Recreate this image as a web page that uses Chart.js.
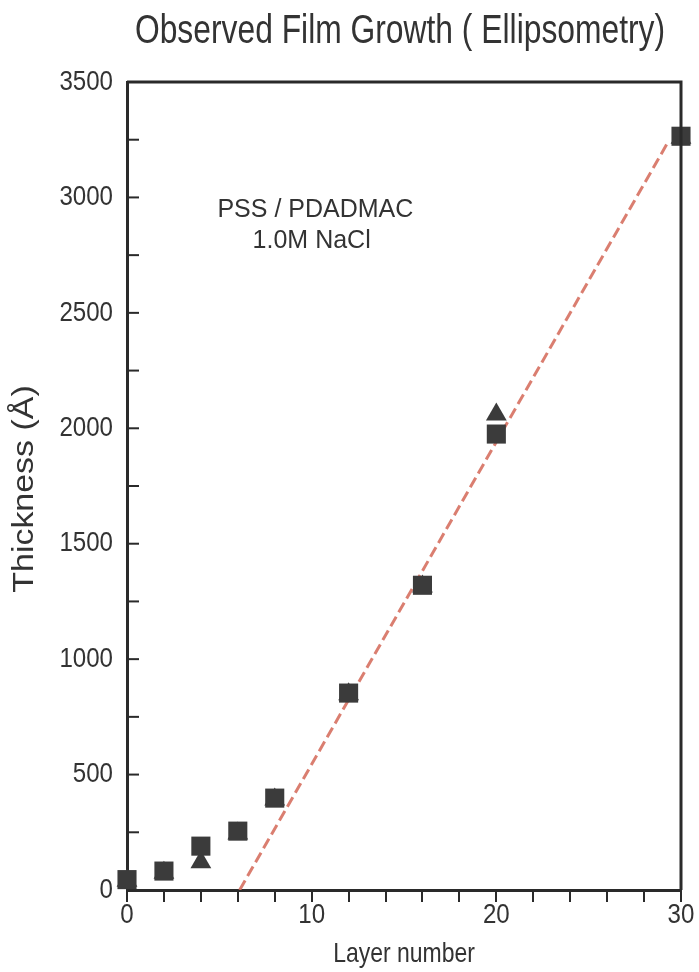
<!DOCTYPE html>
<html><head><meta charset="utf-8">
<script src="https://cdn.jsdelivr.net/npm/chart.js@4.4.1/dist/chart.umd.min.js"></script>
<style>html,body{margin:0;padding:0;background:#fff;}#wrap{width:699px;height:972px;}</style>
</head><body><div id="wrap"><canvas id="c" width="699" height="972"></canvas></div>
<script>
// ---- data ----
const layerNumbers = [0, 2, 4, 6, 8, 12, 16, 20, 30];
const squareThickness = [45, 82, 190, 255, 398, 853, 1320, 1975, 3265];
const triangleThickness = [40, 75, 120, 245, 392, 848, 1315, 2060, 3258];
const fitLayers = [6.1, 29.3];
const fitThickness = [0, 3240];
const xLabelValues = [0, 10, 20, 30];
const yLabelValues = [0, 500, 1000, 1500, 2000, 2500, 3000, 3500];
const chartTitle = 'Observed Film Growth ( Ellipsometry)';
const xTitle = 'Layer number';
const yTitle = 'Thickness (Å)';
const noteLines = ['PSS / PDADMAC', '1.0M NaCl'];
const notePos = [{x: 10.2, y: 2945}, {x: 10.0, y: 2810}];

const SANS = '"Liberation Sans", Arial, sans-serif';
const INK = '#333333';
const AXIS = '#2a2a2a';
const MARK = '#3b3b3b';

const pts = (xs, ys) => xs.map((x, i) => ({x, y: ys[i]}));

// the reference is slightly stretched vertically: horizontal text looks narrow
function stretchedText(ctx, text, x, y, size, sx, sy, align, rot) {
  ctx.save();
  ctx.font = size + 'px ' + SANS;
  ctx.textAlign = align;
  ctx.textBaseline = 'middle';
  ctx.translate(x, y);
  ctx.scale(sx, sy);
  if (rot) ctx.rotate(rot);
  ctx.fillText(text, 0, 0);
  ctx.restore();
}

const decor = {
  id: 'decor',
  afterDraw(chart) {
    const {ctx, chartArea: a, scales: {x, y}} = chart;
    ctx.save();
    // top & right border
    ctx.strokeStyle = AXIS;
    ctx.lineWidth = 3;
    ctx.beginPath();
    ctx.moveTo(a.left, a.top);
    ctx.lineTo(a.right, a.top);
    ctx.lineTo(a.right, a.bottom);
    ctx.stroke();
    // inward y ticks
    ctx.lineWidth = 2;
    y.ticks.forEach(t => {
      if (t.value <= 0 || t.value >= 3500) return;
      const py = y.getPixelForValue(t.value);
      ctx.beginPath();
      ctx.moveTo(a.left, py);
      ctx.lineTo(a.left + 12, py);
      ctx.stroke();
    });
    ctx.fillStyle = INK;
    // tick labels
    yLabelValues.forEach(v => stretchedText(ctx, String(v), a.left - 14, y.getPixelForValue(v), 28, 0.86, 1, 'right'));
    xLabelValues.forEach(v => stretchedText(ctx, String(v), x.getPixelForValue(v), a.bottom + 25, 28, 0.86, 1, 'center'));
    // axis titles
    stretchedText(ctx, xTitle, (a.left + a.right) / 2, 954, 28, 0.82, 1, 'center');
    stretchedText(ctx, yTitle, 25, (a.top + a.bottom) / 2 + 3, 29, 1, 1.17, 'center', -Math.PI / 2);
    // title
    stretchedText(ctx, chartTitle, 400, 32, 40, 0.795, 1, 'center');
    // note
    ctx.font = '25px ' + SANS;
    ctx.textAlign = 'center';
    ctx.textBaseline = 'middle';
    noteLines.forEach((s, i) => {
      ctx.fillText(s, x.getPixelForValue(notePos[i].x), y.getPixelForValue(notePos[i].y));
    });
    ctx.restore();
  }
};

new Chart(document.getElementById('c'), {
  type: 'scatter',
  data: {
    datasets: [
      {
        label: 'squares',
        data: pts(layerNumbers, squareThickness),
        pointStyle: 'rect',
        pointRadius: 13.5,
        backgroundColor: MARK,
        borderColor: MARK,
        borderWidth: 0,
        clip: false,
        order: 1
      },
      {
        label: 'triangles',
        data: pts(layerNumbers, triangleThickness),
        pointStyle: 'triangle',
        pointRadius: 12,
        backgroundColor: MARK,
        borderColor: MARK,
        borderWidth: 0,
        clip: false,
        order: 2
      },
      {
        label: 'fit',
        data: pts(fitLayers, fitThickness),
        showLine: true,
        pointRadius: 0,
        borderColor: 'rgba(214,112,96,0.9)',
        borderWidth: 3,
        borderDash: [11, 5],
        order: 3
      }
    ]
  },
  options: {
    responsive: false,
    animation: false,
    events: [],
    layout: {padding: {top: 82, right: 18, left: 0, bottom: 0}},
    plugins: {legend: {display: false}, tooltip: {enabled: false}, title: {display: false}},
    scales: {
      x: {
        type: 'linear', min: 0, max: 30,
        afterFit: s => { s.height = 82; },
        ticks: {stepSize: 2, autoSkip: false, maxRotation: 0, display: false},
        grid: {drawOnChartArea: false, drawTicks: true, tickLength: 12, color: AXIS, lineWidth: 2},
        border: {color: AXIS, width: 3},
        title: {display: false}
      },
      y: {
        type: 'linear', min: 0, max: 3500,
        afterFit: s => { s.width = 127; },
        ticks: {stepSize: 250, autoSkip: false, display: false},
        grid: {drawOnChartArea: false, drawTicks: false},
        border: {color: AXIS, width: 3},
        title: {display: false}
      }
    }
  },
  plugins: [decor]
});
</script></body></html>
